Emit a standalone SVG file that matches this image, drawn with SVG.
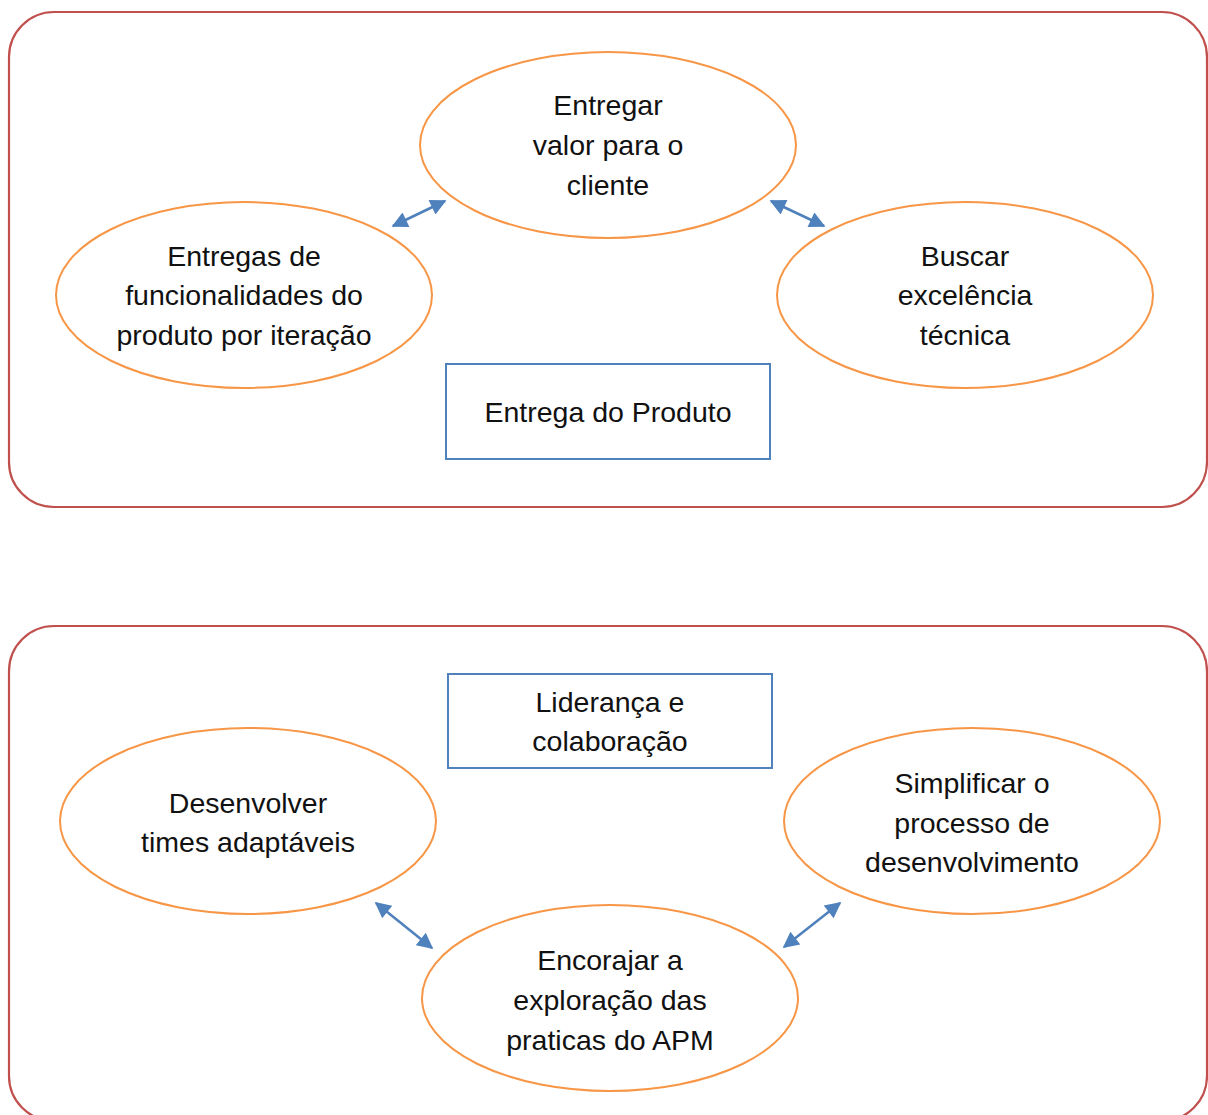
<svg xmlns="http://www.w3.org/2000/svg" width="1208" height="1115" viewBox="0 0 1208 1115">
  <style>
    .panel { fill: #FFFFFF; stroke: #C0504D; stroke-width: 2.2; }
    .oval { fill: #FFFFFF; stroke: #F79646; stroke-width: 2; }
    .box { fill: #FFFFFF; stroke: #4F81BD; stroke-width: 2; }
    .lbl { font-family: "Liberation Sans", Arial, sans-serif; font-size: 28.5px; fill: #111111; text-anchor: middle; }
    .link { stroke: #4F81BD; stroke-width: 2.5; fill: none; marker-start: url(#head); marker-end: url(#head); }
  </style>
  <defs>
    <marker id="head" viewBox="0 0 10 10" refX="9" refY="5" markerWidth="19" markerHeight="16" markerUnits="userSpaceOnUse" orient="auto-start-reverse">
      <path d="M0,0 L10,5 L0,10 Z" fill="#4F81BD"/>
    </marker>
  </defs>
  <rect width="1208" height="1115" fill="#FFFFFF"/>

  <!-- Product delivery panel -->
  <rect id="panel-top" class="panel" x="9" y="12" width="1198" height="495" rx="45" ry="45"/>
  <!-- Leadership panel -->
  <rect id="panel-bottom" class="panel" x="9" y="626" width="1198" height="495" rx="45" ry="45"/>

  <g id="connectors">
    <line class="link" x1="393" y1="226" x2="445" y2="201"/>
    <line class="link" x1="771" y1="201" x2="824" y2="226"/>
    <line class="link" x1="376" y1="903" x2="432" y2="948"/>
    <line class="link" x1="784" y1="947" x2="840" y2="903"/>
  </g>

  <g id="entregar-valor">
    <ellipse class="oval" cx="608" cy="145" rx="188" ry="93"/>
    <text class="lbl" x="608" y="115">Entregar</text>
    <text class="lbl" x="608" y="155">valor para o</text>
    <text class="lbl" x="608" y="195">cliente</text>
  </g>

  <g id="entregas-funcionalidades">
    <ellipse class="oval" cx="244" cy="295" rx="188" ry="93"/>
    <text class="lbl" x="244" y="266">Entregas de</text>
    <text class="lbl" x="244" y="305">funcionalidades do</text>
    <text class="lbl" x="244" y="345">produto por iteração</text>
  </g>

  <g id="buscar-excelencia">
    <ellipse class="oval" cx="965" cy="295" rx="188" ry="93"/>
    <text class="lbl" x="965" y="266">Buscar</text>
    <text class="lbl" x="965" y="305">excelência</text>
    <text class="lbl" x="965" y="345">técnica</text>
  </g>

  <g id="entrega-produto">
    <rect class="box" x="446" y="364" width="324" height="95"/>
    <text class="lbl" x="608" y="422">Entrega do Produto</text>
  </g>

  <g id="lideranca">
    <rect class="box" x="448" y="674" width="324" height="94"/>
    <text class="lbl" x="610" y="712">Liderança e</text>
    <text class="lbl" x="610" y="751">colaboração</text>
  </g>

  <g id="desenvolver-times">
    <ellipse class="oval" cx="248" cy="821" rx="188" ry="93"/>
    <text class="lbl" x="248" y="813">Desenvolver</text>
    <text class="lbl" x="248" y="852">times adaptáveis</text>
  </g>

  <g id="simplificar-processo">
    <ellipse class="oval" cx="972" cy="821" rx="188" ry="93"/>
    <text class="lbl" x="972" y="793">Simplificar o</text>
    <text class="lbl" x="972" y="833">processo de</text>
    <text class="lbl" x="972" y="872">desenvolvimento</text>
  </g>

  <g id="encorajar-exploracao">
    <ellipse class="oval" cx="610" cy="998" rx="188" ry="93"/>
    <text class="lbl" x="610" y="970">Encorajar a</text>
    <text class="lbl" x="610" y="1010">exploração das</text>
    <text class="lbl" x="610" y="1050">praticas do APM</text>
  </g>
</svg>
